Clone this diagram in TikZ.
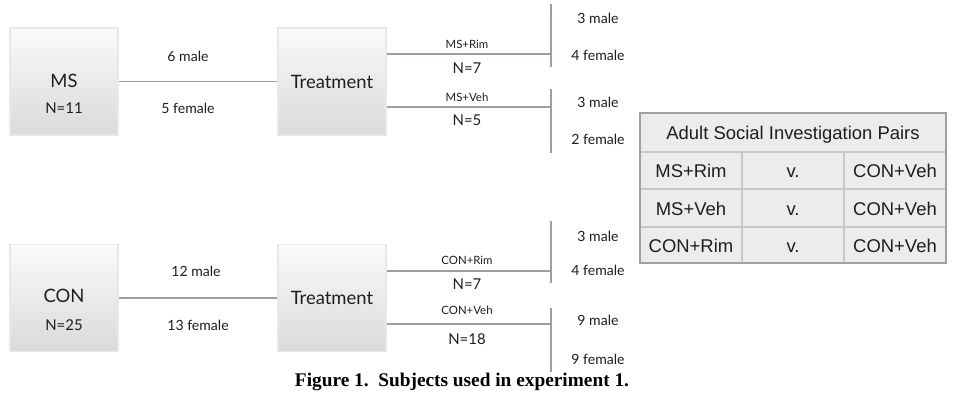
\documentclass[tikz,border=0pt]{standalone}
\usepackage{fontspec}
\setmainfont{Lato}
\newfontfamily\tabfont{Liberation Sans}
\newfontfamily\capfont{Liberation Serif}
\usetikzlibrary{positioning}
\definecolor{boxTop}{RGB}{250,250,250}
\definecolor{boxBottom}{RGB}{218,218,218}
\definecolor{boxEdge}{RGB}{232,232,232}
\definecolor{linkGray}{RGB}{158,158,168}
\definecolor{tabFill}{RGB}{236,236,236}
\definecolor{tabEdge}{RGB}{160,160,160}
\definecolor{tabRule}{RGB}{200,200,200}
\definecolor{inkDark}{RGB}{30,30,30}

\tikzset{
  grpbox/.style={draw=boxEdge, line width=1pt, top color=boxTop, bottom color=boxBottom,
    minimum width=2.16cm, minimum height=2.14cm, inner sep=0pt},
  link/.style={draw=linkGray, line width=0.8pt},
  bigtxt/.style={text=inkDark, font=\fontsize{10.5}{12}\selectfont},
  midtxt/.style={text=inkDark, font=\fontsize{8.5}{10}\selectfont},
  smalltxt/.style={text=inkDark, font=\fontsize{8}{9}\selectfont},
  tinytxt/.style={text=inkDark, font=\fontsize{6.5}{7}\selectfont},
  celltxt/.style={text=inkDark, font=\tabfont\fontsize{10.5}{12}\selectfont,
    text height=7.6pt, text depth=0.4pt}
}

\begin{document}
\begin{tikzpicture}[x=0.02cm, y=-0.02cm]
\useasboundingbox (0,0) rectangle (954,406);

% MS branch
\node[grpbox] (ms) at (64,81.5) {};
\node[bigtxt] (msname) at (64,81) {MS};
\node[midtxt] (msn) at (64,108) {N=11};
\node[grpbox] (trA) at (332,81.5) {};
\node[bigtxt] (trAname) at (332,82) {Treatment};
\draw[link] (ms.east) -- (trA.west);
\node[smalltxt] (msmale) at (188,56) {6 male};
\node[smalltxt] (msfemale) at (188,108) {5 female};

\coordinate (msrim) at (551,54);
\coordinate (msveh) at (551,107);
\draw[link] (trA.east |- msrim) -- (msrim);
\draw[link] (trA.east |- msveh) -- (msveh);
\draw[link] (551,4) -- (551,67);
\draw[link] (551,89) -- (551,153);
\node[tinytxt] (msrimlab) at (467,44) {MS+Rim};
\node[midtxt] (msrimn) at (467,68) {N=7};
\node[tinytxt] (msvehlab) at (467,97) {MS+Veh};
\node[midtxt] (msvehn) at (467,120) {N=5};
\node[smalltxt] (msrimm) at (598,18) {3 male};
\node[smalltxt] (msrimf) at (598,55) {4 female};
\node[smalltxt] (msvehm) at (598,102) {3 male};
\node[smalltxt] (msvehf) at (598,139) {2 female};

% CON branch
\node[grpbox] (con) at (64,298) {};
\node[bigtxt] (conname) at (64,296) {CON};
\node[midtxt] (conn) at (64,325) {N=25};
\node[grpbox] (trB) at (332,298) {};
\node[bigtxt] (trBname) at (332,298) {Treatment};
\draw[link] (con.east) -- (trB.west);
\node[smalltxt] (conmale) at (196,271) {12 male};
\node[smalltxt] (confemale) at (198,325) {13 female};

\coordinate (conrim) at (551,271);
\coordinate (conveh) at (551,324);
\draw[link] (trB.east |- conrim) -- (conrim);
\draw[link] (trB.east |- conveh) -- (conveh);
\draw[link] (551,221) -- (551,283);
\draw[link] (551,308) -- (551,372);
\node[tinytxt] (conrimlab) at (467,260) {CON+Rim};
\node[midtxt] (conrimn) at (467,284) {N=7};
\node[tinytxt] (convehlab) at (467,310) {CON+Veh};
\node[midtxt] (convehn) at (467,339) {N=18};
\node[smalltxt] (conrimm) at (598,236) {3 male};
\node[smalltxt] (conrimf) at (598,270) {4 female};
\node[smalltxt] (convehm) at (598,320) {9 male};
\node[smalltxt] (convehf) at (598,359) {9 female};

% pairs table
\fill[tabFill] (640,113) rectangle (946,263);
\draw[tabRule, line width=0.6pt] (640,152) -- (946,152) (640,189) -- (946,189) (640,227) -- (946,227)
  (742,152) -- (742,263) (844,152) -- (844,263);
\draw[tabEdge, line width=0.6pt] (640,113) rectangle (946,263);
\node[celltxt] (tabhead) at (793,133) {Adult Social Investigation Pairs};
\node[celltxt] (pairAa) at (691,171) {MS+Rim};
\node[celltxt] (pairAb) at (793,171) {v.};
\node[celltxt] (pairAc) at (895,171) {CON+Veh};
\node[celltxt] (pairBa) at (691,209) {MS+Veh};
\node[celltxt] (pairBb) at (793,209) {v.};
\node[celltxt] (pairBc) at (895,209) {CON+Veh};
\node[celltxt] (pairCa) at (691,246) {CON+Rim};
\node[celltxt] (pairCb) at (793,246) {v.};
\node[celltxt] (pairCc) at (895,246) {CON+Veh};

\node[font=\capfont\bfseries\fontsize{11}{13}\selectfont] (caption) at (462,382)
  {Figure 1.\ \ Subjects used in experiment 1.};
\end{tikzpicture}
\end{document}
